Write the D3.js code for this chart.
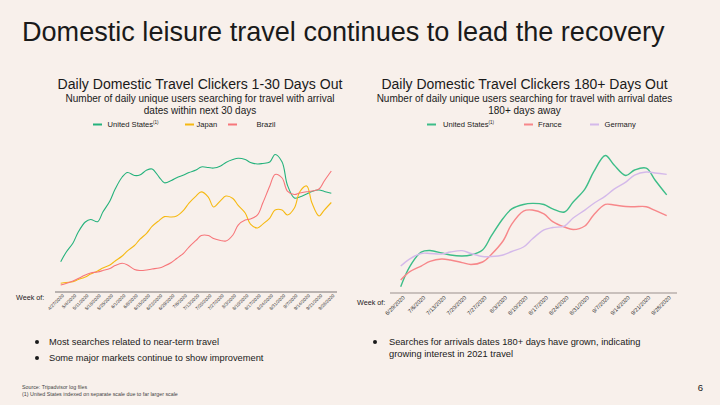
<!DOCTYPE html>
<html><head><meta charset="utf-8">
<script src="https://cdn.jsdelivr.net/npm/d3@7"></script>
<style>
html,body{margin:0;padding:0;background:#f8f0eb;}
svg{display:block;font-family:"Liberation Sans",Arial,Helvetica,sans-serif;}
</style></head><body>
<svg id="c" width="720" height="405"></svg>
<script>
// ---------- DATA ----------
const leftTickLabels = ["4/27/2020","5/4/2020","5/11/2020","5/18/2020","5/25/2020","6/1/2020","6/8/2020","6/15/2020","6/22/2020","6/29/2020","7/6/2020","7/13/2020","7/20/2020","7/27/2020","8/3/2020","8/10/2020","8/17/2020","8/24/2020","8/31/2020","9/7/2020","9/14/2020","9/21/2020","9/28/2020"];
const leftDates = ["4/27","4/30","5/4","5/7","5/11","5/14","5/18","5/21","5/25","5/28","6/1","6/4","6/8","6/11","6/15","6/18","6/22","6/25","6/29","7/2","7/6","7/9","7/13","7/16","7/20","7/23","7/27","7/30","8/3","8/6","8/10","8/13","8/17","8/20","8/24","8/27","8/31","9/3","9/7","9/10","9/14","9/17","9/21","9/24","9/28"];
const usNear = [20.2,26.8,33.6,41.4,48.6,50.4,48.8,55.7,63.6,72.1,80.7,83.9,81.8,82.1,85.7,86.4,80.7,76.6,78.2,80.2,82.1,83.9,85.7,87.9,87.5,87.1,88.6,91.1,93.2,94.1,93.2,91.1,90,90.4,91.4,96.8,91.4,75,65.7,66.4,68.6,70.4,71.4,70.4,69.1];
const japanNear = [4.8,5.4,5.9,7.5,9.3,11.4,13.6,15.7,17.9,20.7,24.3,27.9,31.8,36.1,40.7,45.4,49.6,52.4,52.1,52.9,57.1,62.1,67.1,70.1,66.4,59.3,63.9,67.1,65.4,60.4,55,47.1,44.3,47.1,51.4,57.1,57.1,53.6,58.6,70,74.3,62.1,52.9,57.1,62.5];
const brazilNear = [3.6,4.6,6.4,8.2,10.7,12.1,12.9,13.9,15.4,17.5,19.1,17.9,14.6,13.9,14.3,15,15.7,17.1,19.6,22.5,26.4,30.7,35.4,38.9,38.9,36.8,35.4,35,39.3,46.4,50,50.7,53.6,62.1,74.3,82.5,80,70.7,68.2,69.3,70.2,70.7,72.1,77.9,85];

const rightTickLabels = ["6/29/2020","7/6/2020","7/13/2020","7/20/2020","7/27/2020","8/3/2020","8/10/2020","8/17/2020","8/24/2020","8/31/2020","9/7/2020","9/14/2020","9/21/2020","9/28/2020"];
const rightDates = ["6/29","7/2","7/6","7/9","7/13","7/16","7/20","7/23","7/27","7/30","8/3","8/6","8/10","8/13","8/17","8/20","8/24","8/27","8/31","9/3","9/7","9/10","9/14","9/17","9/21","9/24","9/28"];
const usFar = [2.4,16.4,27.1,28.2,26.4,25,24.3,25,28.6,38.6,51.1,57.9,61.1,61.9,61.1,57.9,55.7,62.9,72.1,84.3,96.1,89.3,81.8,85.7,87.1,78.6,67.9];
const franceFar = [7.1,12.9,17.1,20.4,22.1,21.4,19.6,18.2,20,25.4,35,47.1,56.4,57.1,54.3,48.9,45,43.2,45.7,53.6,61.1,60.7,59.6,59.5,59.5,56.8,53.1];
const germanyFar = [17.1,22.1,26.1,26.1,25.7,27.1,28.1,26.1,23.9,23.9,25,27.5,30.7,36.4,42.9,44.6,45.7,51.4,57.1,61.8,67.1,72.1,77.1,82.1,84.3,83.6,82.6];

const title = "Domestic leisure travel continues to lead the recovery";
const leftTitle = "Daily Domestic Travel Clickers 1-30 Days Out";
const leftSub = ["Number of daily unique users searching for travel with arrival","dates within next 30 days"];
const rightTitle = "Daily Domestic Travel Clickers 180+ Days Out";
const rightSub = ["Number of daily unique users searching for travel with arrival dates","180+ days away"];
const leftBullets = ["Most searches related to near-term travel","Some major markets continue to show improvement"];
const rightBullets = ["Searches for arrivals dates 180+ days have grown, indicating","growing interest in 2021 travel"];
const footnotes = ["Source: Tripadvisor log files","(1) United States indexed on separate scale due to far larger scale"];

// ---------- DRAW ----------
const svg = d3.select("#c");
const parseFull = d3.timeParse("%m/%d/%Y");
const parseShort = s => parseFull(s + "/2020");
const fmt = d => (d.getMonth()+1) + "/" + d.getDate() + "/" + d.getFullYear();
const textCol = "#1a1a1a";

function fit(sel, w){
  const n = sel.node(); const l = n.getComputedTextLength();
  const fs = parseFloat(sel.attr("font-size"));
  sel.attr("font-size", (fs * w / l).toFixed(2));
}

fit(svg.append("text").attr("x",22).attr("y",41).attr("font-size",26).attr("fill",textCol).text(title), 643);

function chart(cfg){
  const g = svg.append("g");
  const dates = cfg.dates.map(parseShort);
  const ticks = cfg.ticks.map(parseFull);
  const x = d3.scaleTime().domain(d3.extent(dates)).range(cfg.xr);
  const y = d3.scaleLinear().domain([0,100]).range([290,150]);
  // titles
  fit(g.append("text").attr("x",cfg.cx).attr("y",89).attr("text-anchor","middle").attr("font-size",14).attr("fill",textCol).text(cfg.title), cfg.titleW);
  let subFs = 10;
  cfg.sub.forEach((s,i)=>{
    const t = g.append("text").attr("x",cfg.cx).attr("y",102+i*12).attr("text-anchor","middle").attr("font-size",subFs).attr("fill",textCol).text(s);
    if(i===0){ fit(t, cfg.subW); subFs = t.attr("font-size"); }
  });
  // legend
  cfg.series.forEach(s=>{
    g.append("line").attr("x1",s.lx).attr("x2",s.lx+9).attr("y1",124.5).attr("y2",124.5).attr("stroke",s.color).attr("stroke-width",2);
    const t = g.append("text").attr("x",s.tx).attr("y",127.3).attr("font-size",7.6).attr("fill",textCol).text(s.name);
    if(s.sup) t.append("tspan").attr("font-size",4.5).attr("dy",-3).text(s.sup);
  });
  // axis line
  g.append("line").attr("x1",cfg.ax[0]).attr("x2",cfg.ax[1]).attr("y1",cfg.ay).attr("y2",cfg.ay)
    .attr("stroke",cfg.axCol).attr("stroke-width",cfg.axW);
  const axis = d3.axisBottom(x).tickValues(ticks).tickFormat(fmt).tickSize(0);
  const ag = g.append("g").attr("transform",`translate(0,${cfg.ay})`).call(axis);
  ag.select(".domain").remove();
  ag.selectAll("text").attr("font-size",cfg.tickFs).attr("fill","#333")
    .attr("font-family","'Liberation Sans',Arial,sans-serif")
    .attr("text-anchor","end").attr("dy",0).attr("y",0)
    .attr("transform",`translate(${cfg.tdx},${cfg.tdy}) rotate(-45)`);
  g.append("text").attr("x",cfg.wx).attr("y",cfg.wy).attr("font-size",7.2).attr("fill",textCol).text("Week of:");
  // lines
  const line = d3.line().x((d,i)=>x(dates[i])).y(d=>y(d)).curve(d3.curveCatmullRom.alpha(0.5));
  cfg.series.forEach(s=>{
    g.append("path").attr("d",line(s.values)).attr("fill","none").attr("stroke",s.color).attr("stroke-width",cfg.lw);
  });
  // bullets
  cfg.bullets.forEach((b,i)=>{
    if(cfg.dots[i]) g.append("circle").attr("cx",cfg.bx).attr("cy",cfg.by[i]-3).attr("r",2).attr("fill",textCol);
    g.append("text").attr("x",cfg.btx).attr("y",cfg.by[i]).attr("font-size",9.3).attr("fill",textCol).text(b);
  });
}

chart({dates:leftDates, ticks:leftTickLabels, xr:[60.7,331.3], cx:200, title:leftTitle, titleW:285, sub:leftSub, subW:269,
  series:[
    {name:"United States", sup:"(1)", values:usNear, color:"#25b27c", lx:93, tx:107.5},
    {name:"Japan", values:japanNear, color:"#f6b912", lx:185, tx:196.5},
    {name:"Brazil", values:brazilNear, color:"#f7767a", lx:228, tx:256.5}],
  ax:[55,337], ay:292, axCol:"#7a7574", axW:1, tickFs:4.6, tdx:3, tdy:4, wx:16, wy:300, lw:1.1,
  bullets:leftBullets, dots:[true,true], bx:37, btx:49, by:[345,361]});

chart({dates:rightDates, ticks:rightTickLabels, xr:[400.7,666.7], cx:524.5, title:rightTitle, titleW:286, sub:rightSub, subW:296,
  series:[
    {name:"United States", sup:"(1)", values:usFar, color:"#3dbd88", lx:427, tx:443},
    {name:"France", values:franceFar, color:"#f7878a", lx:524, tx:538},
    {name:"Germany", values:germanyFar, color:"#d4b9ea", lx:590, tx:604.5}],
  ax:[390,677], ay:293, axCol:"#c9c0bc", axW:2, tickFs:5.6, tdx:4, tdy:5, wx:357, wy:305, lw:1.4,
  bullets:rightBullets, dots:[true,false], bx:375, btx:389, by:[345,357]});

footnotes.forEach((f,i)=>svg.append("text").attr("x",22).attr("y",388.5+i*7.5).attr("font-size",5.3).attr("fill","#444").text(f));
svg.append("text").attr("x",703).attr("y",391).attr("text-anchor","end").attr("font-size",9.5).attr("fill",textCol).text("6");
</script></body></html>
